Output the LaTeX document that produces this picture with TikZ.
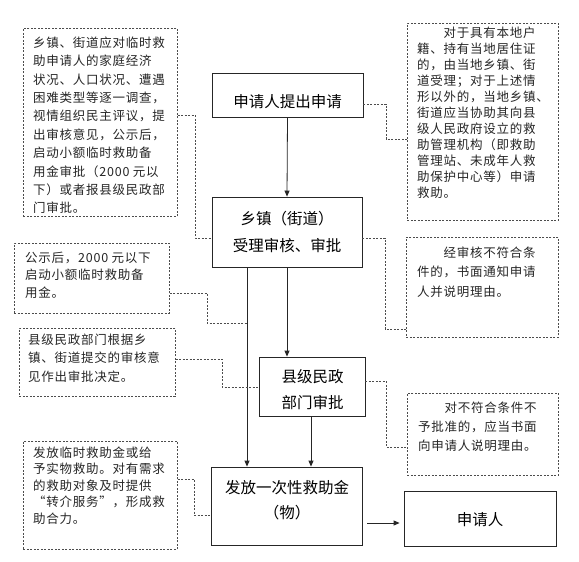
\documentclass[tikz,border=0pt]{standalone}
\usepackage{fontspec}
\setmainfont{Noto Sans CJK SC}
\newfontfamily\dfont{Noto Sans CJK SC}[LetterSpace=6]
\usetikzlibrary{arrows.meta}
\begin{document}
\begin{tikzpicture}[x=1pt,y=-1pt,
  mainbox/.style={draw=black!85, line width=0.8pt, inner sep=0pt},
  mtext/.style={inner sep=0pt, align=center, text=black, font=\fontsize{15.5}{27}\selectfont},
  dbox/.style={draw=black!70, line width=0.6pt, dash pattern=on 2pt off 1.5pt, inner sep=0pt, anchor=north west},
  dtext/.style={anchor=north west, inner sep=0pt, align=left, text=black!85},
  conn/.style={draw=black!70, line width=0.6pt, dash pattern=on 2pt off 1.5pt},
  arr/.style={draw=black!85, line width=0.8pt, -{Triangle[length=6pt,width=5pt]}}]
\useasboundingbox (0,0) rectangle (579,562);
\fill[white] (0,0) rectangle (579,562);

% main boxes
\node[mainbox, minimum width=151pt, minimum height=44pt] (b1) at (287.5,95) {};
\node[mtext] (b1t) at (287.5,102) {申请人提出申请};
\node[mainbox, minimum width=150pt, minimum height=70pt] (b2) at (287,232) {};
\node[mtext] (b2t) at (287,231.5) {乡镇（街道）\\受理审核、审批};
\node[mainbox, minimum width=106pt, minimum height=59pt] (b3) at (312,386.5) {};
\node[mtext, font=\fontsize{15.5}{26}\selectfont] (b3t) at (312.5,390) {县级民政\\部门审批};
\node[mainbox, minimum width=151pt, minimum height=78pt] (b4) at (286.5,506) {};
\node[mtext, font=\fontsize{15.5}{25}\selectfont] (b4t) at (287,500.5) {发放一次性救助金\\（物）};
\node[mainbox, minimum width=152pt, minimum height=55pt] (b5) at (480,518.5) {};
\node[mtext] (b5t) at (480,520) {申请人};

% dashed boxes
\node[dbox, minimum width=154pt, minimum height=188pt] (d1) at (23,28) {};
\node[dtext, font=\dfont\fontsize{12.5}{18.4}\selectfont] (d1t) at (33,36.5) {乡镇、街道应对临时救\\助申请人的家庭经济\\状况、人口状况、遭遇\\困难类型等逐一调查，\\视情组织民主评议，提\\出审核意见，公示后，\\启动小额临时救助备\\用金审批（2000 元以\\下）或者报县级民政部\\门审批。};

\node[dbox, minimum width=151pt, minimum height=197pt] (d2) at (407,23) {};
\node[dtext, font=\dfont\fontsize{12.5}{16}\selectfont] (d2t) at (417,26.5) {　　对于具有本地户\\籍、持有当地居住证\\的，由当地乡镇、街\\道受理；对于上述情\\形以外的，当地乡镇、\\街道应当协助其向县\\级人民政府设立的救\\助管理机构（即救助\\管理站、未成年人救\\助保护中心等）申请\\救助。};

\node[dbox, minimum width=155pt, minimum height=70pt] (d3) at (14,243) {};
\node[dtext, font=\dfont\fontsize{12.5}{17.5}\selectfont] (d3t) at (25,251.5) {公示后，2000 元以下\\启动小额临时救助备\\用金。};

\node[dbox, minimum width=156pt, minimum height=68pt] (d4) at (19,328) {};
\node[dtext, font=\dfont\fontsize{12.5}{18.5}\selectfont] (d4t) at (28,333.5) {县级民政部门根据乡\\镇、街道提交的审核意\\见作出审批决定。};

\node[dbox, minimum width=152pt, minimum height=100pt] (d5) at (406,237) {};
\node[dtext, font=\dfont\fontsize{12.5}{19.5}\selectfont] (d5t) at (417,246.5) {　　经审核不符合条\\件的，书面通知申请\\人并说明理由。};

\node[dbox, minimum width=151pt, minimum height=82pt] (d6) at (407,393) {};
\node[dtext, font=\dfont\fontsize{12.5}{19}\selectfont] (d6t) at (418,401.5) {　　对不符合条件不\\予批准的，应当书面\\向申请人说明理由。};

\node[dbox, minimum width=154pt, minimum height=108pt] (d7) at (23,441) {};
\node[dtext, font=\dfont\fontsize{12.5}{16.5}\selectfont] (d7t) at (33,446.5) {发放临时救助金或给\\予实物救助。对有需求\\的救助对象及时提供\\“转介服务”，形成救\\助合力。};

% arrows
\draw[arr] (b1.south) -- (b2.north);
\draw[arr] (b2.south -| 287,0) -- (b3.north -| 287,0);
\draw[arr] (b2.south -| 247,0) -- (b4.north -| 247,0);
\draw[arr] (b3.south -| 311,0) -- (b4.north -| 311,0);
\draw[arr, shorten <=5pt, shorten >=4pt] (b4.east |- 0,523) -- (b5.west |- 0,523);

% dashed connectors
\coordinate (j3) at (247,323);
\draw[conn] (d1.east |- 0,115) -- (195,115) |- (b2.west |- 0,238);
\draw[conn] (b1.east |- 0,104) -- (386,104) |- (d2.west |- 0,139);
\draw[conn] (d3.east |- 0,293) -- (207,293) |- (j3);
\draw[conn] (d4.east |- 0,359) -- (222,359) |- (b3.west |- 0,387);
\draw[conn] (b2.east |- 0,238) -- (385,238) |- (d5.west |- 0,329);
\draw[conn] (b3.east |- 0,381) -- (386,381) |- (d6.west |- 0,447);
\draw[conn] (d7.east |- 0,479) -- (194,479) |- (b4.west |- 0,515);
\end{tikzpicture}
\end{document}
